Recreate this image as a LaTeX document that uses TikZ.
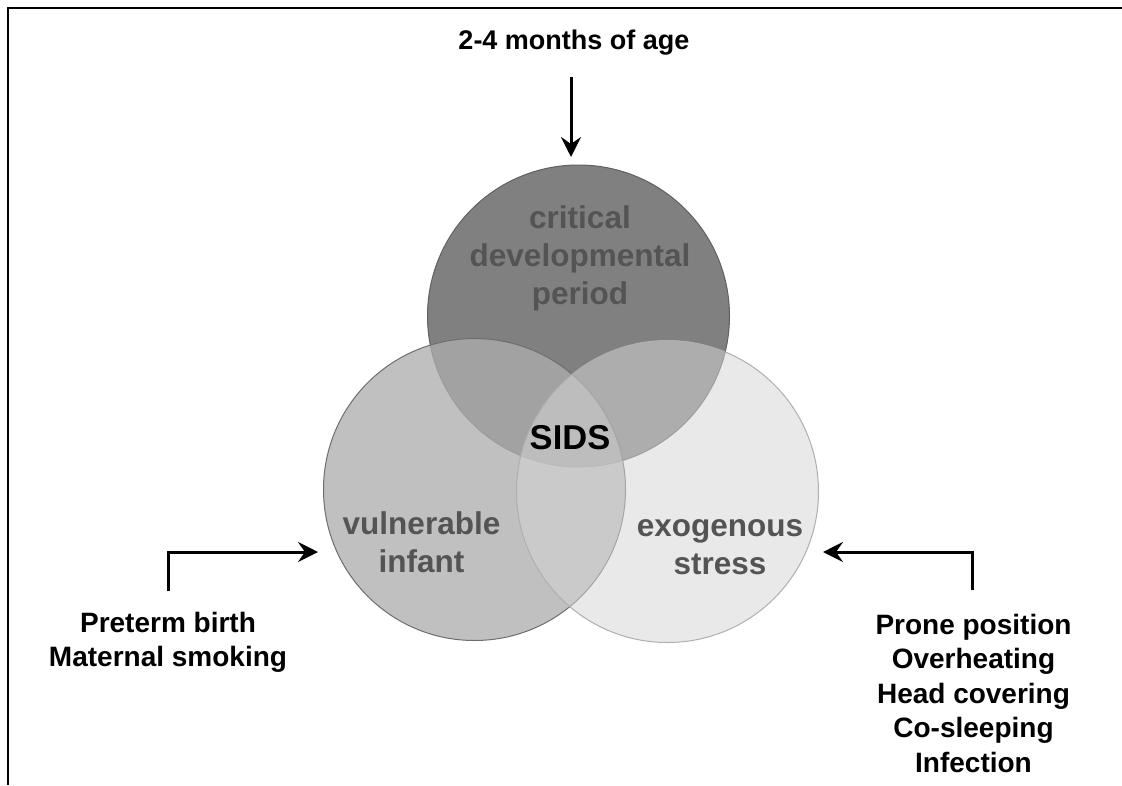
\documentclass[tikz,border=0pt]{standalone}
\usepackage{fontspec}
\setmainfont{Liberation Sans}
\usetikzlibrary{arrows.meta}
\definecolor{gA}{RGB}{128,128,128}
\definecolor{gB}{RGB}{173,173,173}
\definecolor{gC}{RGB}{213,213,213}
\definecolor{eA}{RGB}{96,96,96}
\definecolor{eB}{RGB}{110,110,110}
\definecolor{eC}{RGB}{175,175,175}
\definecolor{labelgray}{RGB}{84,84,84}
\begin{document}
\begin{tikzpicture}[x=1pt,y=-1pt,
  venn/.style={circle, minimum size=302pt, inner sep=0pt, line width=1pt},
  lbl/.style={anchor=base, inner sep=0pt, text=labelgray, font=\fontsize{31.5}{38}\selectfont\bfseries},
  outer/.style={anchor=base, inner sep=0pt, font=\fontsize{28}{34.5}\selectfont\bfseries},
  arr/.style={line width=3pt, -{Stealth[length=20pt,width=20pt,inset=7pt]}}
]
\useasboundingbox (0,0) rectangle (1122,785);
\draw[line width=1.5pt] (8,785) -- (8,8) -- (1122,8);
% circles
\node[venn, fill=gA, draw=eA] (A) at (578.5,316) {};
\node[venn, fill=gB, fill opacity=0.772, draw=eB] (B) at (474.5,489.5) {};
\node[venn, fill=gC, fill opacity=0.528, draw=eC] (C) at (667.5,491.5) {};
% circle labels
\node[lbl] (crit) at (580,228.5) {\begin{tabular}[t]{@{}c@{}}critical\\developmental\\period\end{tabular}};
\node[lbl] (vuln) at (421.5,534) {\begin{tabular}[t]{@{}c@{}}vulnerable\\infant\end{tabular}};
\node[lbl] (exo) at (720,536) {\begin{tabular}[t]{@{}c@{}}exogenous\\stress\end{tabular}};
\node[anchor=base, inner sep=0pt, font=\fontsize{34.5}{40}\selectfont\bfseries] (sids) at (570,449) {SIDS};
% outer labels
\node[outer, font=\fontsize{27}{32}\selectfont\bfseries] (age) at (574,49) {2-4 months of age};
\node[outer] (pre) at (168,632) {\begin{tabular}[t]{@{}c@{}}Preterm birth\\Maternal smoking\end{tabular}};
\node[outer] (prone) at (973.5,634) {\begin{tabular}[t]{@{}c@{}}Prone position\\Overheating\\Head covering\\Co-sleeping\\Infection\end{tabular}};
% arrows
\coordinate (ageS) at (571,77);
\coordinate (ageT) at (571,157);
\coordinate (preS) at (168,591);
\coordinate (preT) at (318,552);
\coordinate (proS) at (972,590);
\coordinate (proT) at (823,552);
\draw[arr] (ageS) -- (ageT);
\draw[arr] (preS) |- (preT);
\draw[arr] (proS) |- (proT);
\end{tikzpicture}
\end{document}
